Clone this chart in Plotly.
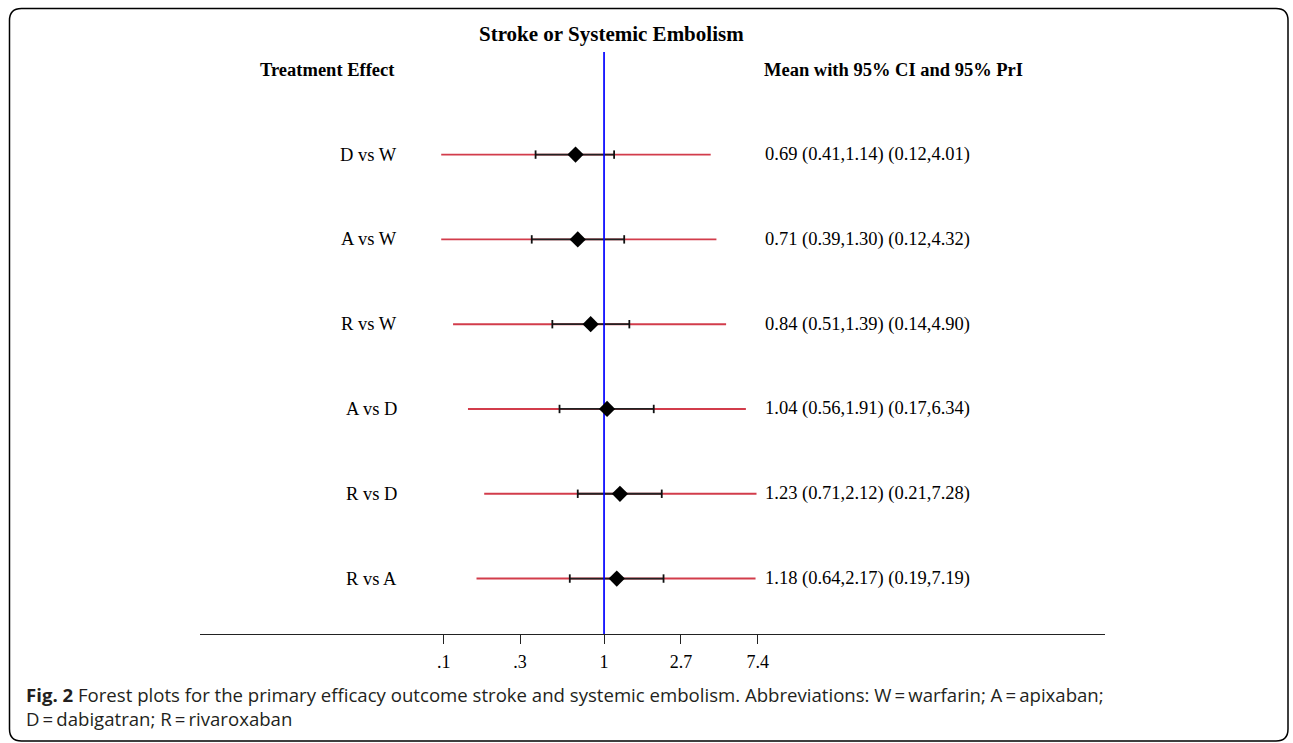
import plotly.graph_objects as go

# ---------------- data ----------------
comparisons = ["D vs W", "A vs W", "R vs W", "A vs D", "R vs D", "R vs A"]
mean_vals = [0.69, 0.71, 0.84, 1.04, 1.23, 1.18]
ci_low = [0.41, 0.39, 0.51, 0.56, 0.71, 0.64]
ci_high = [1.14, 1.30, 1.39, 1.91, 2.12, 2.17]
pri_low = [0.12, 0.12, 0.14, 0.17, 0.21, 0.19]
pri_high = [4.01, 4.32, 4.90, 6.34, 7.28, 7.19]
tick_vals = [0.124, 0.335, 1, 2.72, 7.4]
tick_text = [".1", ".3", "1", "2.7", "7.4"]
title_text = "Stroke or Systemic Embolism"
left_header = "Treatment Effect"
right_header = "Mean with 95% CI and 95% PrI"
caption_line1 = ("<b>Fig. 2</b> Forest plots for the primary efficacy outcome stroke and "
                 "systemic embolism. Abbreviations: W\u2009=\u2009warfarin; A\u2009=\u2009apixaban;")
caption_line2 = "D\u2009=\u2009dabigatran; R\u2009=\u2009rivaroxaban"

# ---------------- layout geometry ----------------
W, H = 1293, 743
ML, MR, MT, MB = 200, 188, 52, 108.5
PW, PH = W - ML - MR, H - MT - MB
Y_RANGE = [6.654, -0.21]
X_RANGE = [-2.285, 2.833]

rows = list(range(1, len(comparisons) + 1))
SERIF = "Liberation Serif, Times New Roman, serif"
RED = "#D23C4B"


def pp(px, py):
    return (px - ML) / PW, (H - MB - py) / PH


fig = go.Figure()

# prediction intervals (red)
xs, ys = [], []
for r, lo, hi in zip(rows, pri_low, pri_high):
    xs += [lo, hi, None]
    ys += [r, r, None]
fig.add_trace(go.Scatter(x=xs, y=ys, mode="lines",
                         line=dict(color=RED, width=1.9), hoverinfo="skip"))

# confidence intervals (black)
xs, ys = [], []
for r, lo, hi in zip(rows, ci_low, ci_high):
    xs += [lo, hi, None]
    ys += [r, r, None]
fig.add_trace(go.Scatter(x=xs, y=ys, mode="lines",
                         line=dict(color="#222222", width=1.8), hoverinfo="skip"))

# reference line at 1 (blue)
fig.add_trace(go.Scatter(x=[1, 1], y=Y_RANGE, mode="lines",
                         line=dict(color="#0000FF", width=1.7), hoverinfo="skip"))

# CI caps
fig.add_trace(go.Scatter(x=ci_low + ci_high, y=rows + rows, mode="markers",
                         marker=dict(symbol="line-ns", size=6,
                                     line=dict(color="#111111", width=1.8)),
                         hoverinfo="skip"))

# means (diamonds)
fig.add_trace(go.Scatter(x=mean_vals, y=rows, mode="markers",
                         marker=dict(symbol="diamond", size=12.5, color="black"),
                         hoverinfo="skip"))

annotations = []
# row labels and value texts
for r, name, m, cl, ch, pl, ph in zip(rows, comparisons, mean_vals, ci_low, ci_high,
                                       pri_low, pri_high):
    annotations.append(dict(x=pp(399, 0)[0], xref="paper", y=r, yref="y",
                            text=name, showarrow=False, xanchor="right",
                            yanchor="middle", font=dict(family=SERIF, size=18.5, color="black")))
    annotations.append(dict(x=pp(763, 0)[0], xref="paper", y=r, yref="y",
                            text=f"{m:.2f} ({cl:.2f},{ch:.2f}) ({pl:.2f},{ph:.2f})",
                            showarrow=False, xanchor="left", yanchor="middle",
                            font=dict(family=SERIF, size=18.5, color="black")))

# headers
annotations.append(dict(x=pp(397, 0)[0], xref="paper", y=0, yref="y",
                        text=f"<b>{left_header}</b>", showarrow=False, xanchor="right",
                        yanchor="middle", font=dict(family=SERIF, size=18.5, color="black")))
annotations.append(dict(x=pp(762, 0)[0], xref="paper", y=0, yref="y",
                        text=f"<b>{right_header}</b>", showarrow=False, xanchor="left",
                        yanchor="middle", font=dict(family=SERIF, size=18.5, color="black")))
# title
tx, ty = pp(611.5, 33.5)
annotations.append(dict(x=tx, xref="paper", y=ty, yref="paper",
                        text=f"<b>{title_text}</b>", showarrow=False, xanchor="center",
                        yanchor="middle", font=dict(family=SERIF, size=21, color="black")))
# caption (two lines)
cx, cy = pp(24, 707)
annotations.append(dict(x=cx, xref="paper", y=cy, yref="paper",
                        text=caption_line1 + "<br>" + caption_line2,
                        showarrow=False, xanchor="left", yanchor="middle", align="left",
                        font=dict(family="Open Sans, sans-serif", size=18.6, color="#231F20")))

# rounded border
L_, T_, R_, B_ = 9.5, 8.5, 1288, 741.5
rad = 12


def pt(px, py):
    x, y = pp(px, py)
    return f"{x:.5f},{y:.5f}"


path = (f"M {pt(L_ + rad, T_)} L {pt(R_ - rad, T_)} Q {pt(R_, T_)} {pt(R_, T_ + rad)} "
        f"L {pt(R_, B_ - rad)} Q {pt(R_, B_)} {pt(R_ - rad, B_)} "
        f"L {pt(L_ + rad, B_)} Q {pt(L_, B_)} {pt(L_, B_ - rad)} "
        f"L {pt(L_, T_ + rad)} Q {pt(L_, T_)} {pt(L_ + rad, T_)} Z")

fig.update_layout(
    width=W, height=H,
    margin=dict(l=ML, r=MR, t=MT, b=MB, pad=0),
    paper_bgcolor="white", plot_bgcolor="white",
    showlegend=False,
    annotations=annotations,
    shapes=[dict(type="path", path=path, xref="paper", yref="paper",
                 line=dict(color="black", width=1.5), fillcolor="rgba(0,0,0,0)")],
    xaxis=dict(type="log", range=X_RANGE, tickvals=tick_vals, ticktext=tick_text,
               showline=True, linecolor="#222222", linewidth=1.3, ticks="outside",
               ticklen=9, tickwidth=1.3, tickcolor="#222222", showgrid=False,
               zeroline=False, tickfont=dict(family=SERIF, size=18, color="black"),
               ticklabelstandoff=2, fixedrange=True),
    yaxis=dict(range=Y_RANGE, visible=False, showgrid=False, zeroline=False,
               fixedrange=True),
)

fig.write_html("out.html", config={"displayModeBar": False},
               post_script="document.body.style.margin='0';")
